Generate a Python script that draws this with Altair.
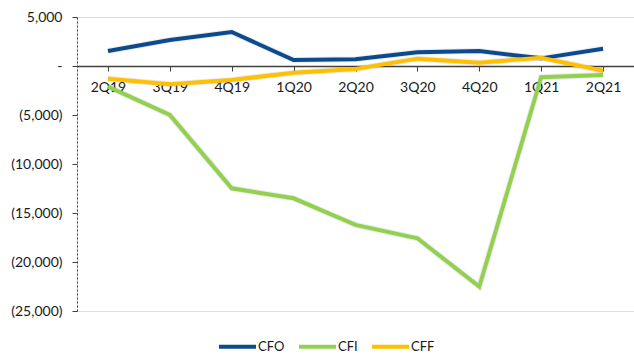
import altair as alt
import pandas as pd

quarters = ["2Q19", "3Q19", "4Q19", "1Q20", "2Q20", "3Q20", "4Q20", "1Q21", "2Q21"]
cfo = [1530, 2650, 3470, 610, 680, 1400, 1530, 780, 1770]
cfi = [-2100, -5000, -12480, -13500, -16220, -17580, -22520, -1150, -920]
cff = [-1300, -1870, -1430, -680, -310, 750, 340, 850, -480]

series_names = ["CFO", "CFI", "CFF"]
series_colors = ["#0B4A8F", "#92D050", "#FFC000"]

rows = []
for name, vals in zip(series_names, [cfo, cfi, cff]):
    for q, v in zip(quarters, vals):
        rows.append({"quarter": q, "series": name, "value": v})
df = pd.DataFrame(rows)

FONT = "Lato"
W, H = 557, 294
zero_from_top = H * 5000 / 30000

# accounting-style labels: negatives in parentheses, zero as a dash
y_labels = (
    "datum.value == 0 ? '-\u2007\u00a0' : "
    "datum.value < 0 ? '(' + format(-datum.value, ',') + ')' : "
    "format(datum.value, ',') + '\u00a0'"
)

x_enc = alt.X(
    "quarter:N",
    sort=quarters,
    title=None,
    scale=alt.Scale(paddingInner=0, paddingOuter=0),
    axis=alt.Axis(
        orient="bottom",
        offset=-(H - zero_from_top),
        labelAngle=0,
        bandPosition=0,
        domainColor="#404040",
        domainWidth=1.5,
        tickColor="#404040",
        tickSize=5,
        labelPadding=9,
        labelFont=FONT,
        labelFontSize=14,
        labelColor="#1a1a1a",
    ),
)

y_enc = alt.Y(
    "value:Q",
    title=None,
    scale=alt.Scale(domain=[-25000, 5000], nice=False, zero=False),
    axis=alt.Axis(
        values=[-25000, -20000, -15000, -10000, -5000, 0, 5000],
        labelExpr=y_labels,
        grid=False,
        domainColor="#404040",
        domainDash=[2, 2],
        tickColor="#404040",
        tickSize=5,
        labelPadding=10,
        labelFont=FONT,
        labelFontSize=14,
        labelColor="#1a1a1a",
    ),
)

color_enc = alt.Color(
    "series:N",
    scale=alt.Scale(domain=series_names, range=series_colors),
    legend=alt.Legend(
        title=None,
        orient="none",
        direction="horizontal",
        legendX=140,
        legendY=309,
        symbolType="stroke",
        symbolStrokeWidth=4,
        symbolSize=1369,
        labelFont=FONT,
        labelFontSize=13,
        labelColor="#1a1a1a",
        labelOffset=0,
        columnPadding=6,
    ),
)

layers = []
for name in series_names:
    sub = df[df["series"] == name]
    shadow = alt.Chart(sub).mark_line(
        strokeWidth=6, color="#000000", opacity=0.08, strokeJoin="miter"
    ).encode(x=x_enc, y=y_enc)
    line = alt.Chart(sub).mark_line(strokeWidth=4, strokeJoin="miter").encode(
        x=x_enc, y=y_enc, color=color_enc
    )
    layers += [shadow, line]

chart = alt.layer(*layers).properties(
    width=W,
    height=H,
    autosize=alt.AutoSizeParams(type="none"),
    padding={"left": 77, "top": 17, "right": 0, "bottom": 43},
).configure_view(stroke=None).configure(background="white")

chart.save("out.html", embed_options={"renderer": "svg", "actions": False})
